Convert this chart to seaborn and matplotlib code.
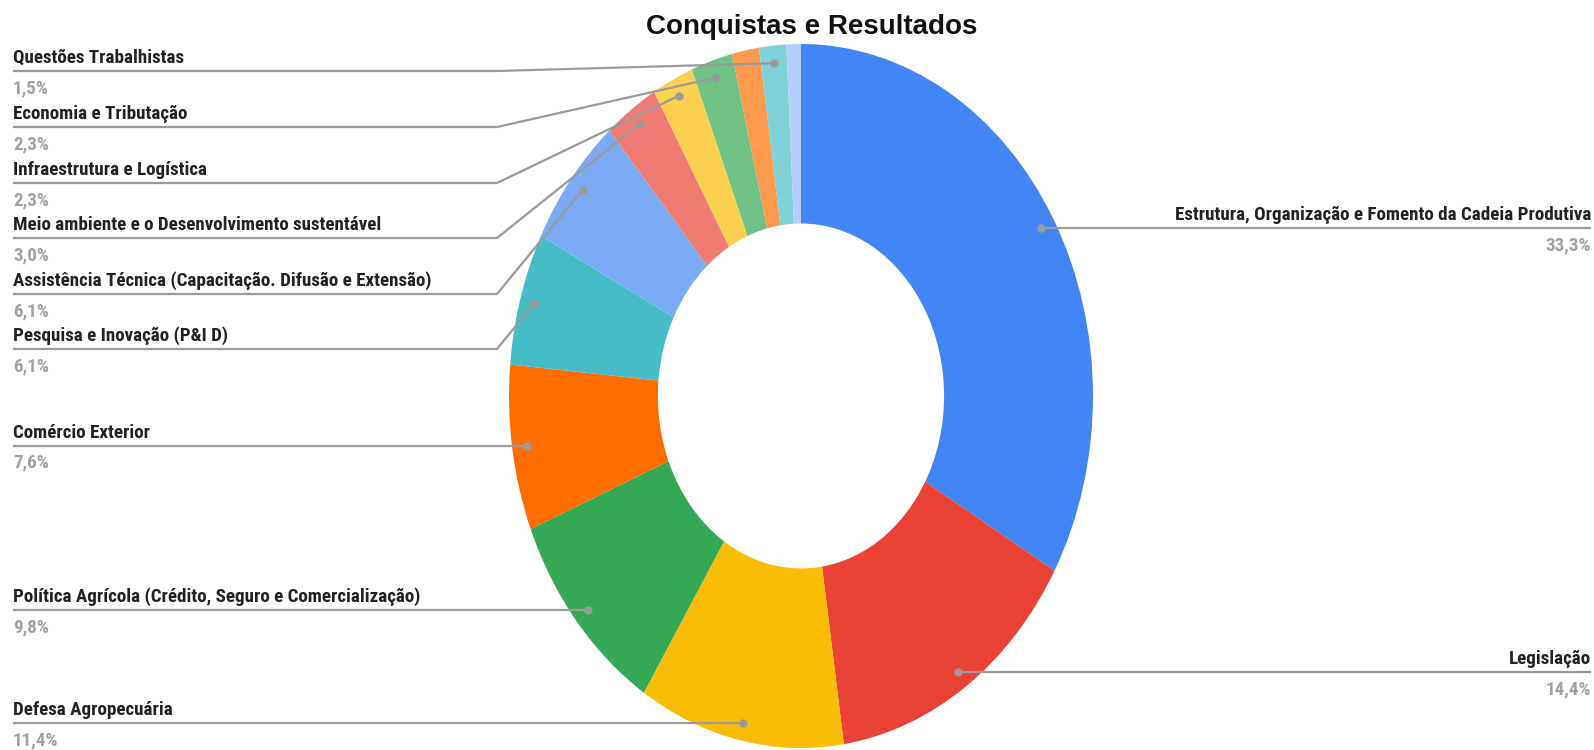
import matplotlib
matplotlib.use("Agg")
import matplotlib.pyplot as plt
import seaborn as sns
import numpy as np

# slices in clockwise order starting at 12 o'clock
categories = [
    "Estrutura, Organização e Fomento da Cadeia Produtiva",
    "Legislação",
    "Defesa Agropecuária",
    "Política Agrícola (Crédito, Seguro e Comercialização)",
    "Comércio Exterior",
    "Pesquisa e Inovação (P&I D)",
    "Assistência Técnica (Capacitação. Difusão e Extensão)",
    "Meio ambiente e o Desenvolvimento sustentável",
    "Infraestrutura e Logística",
    "Economia e Tributação",
    "",
    "Questões Trabalhistas",
    "",
]
values = [33.3, 14.4, 11.4, 9.8, 7.6, 6.1, 6.1, 3.0, 2.3, 2.3, 1.5, 1.5, 0.8]
colors = ["#4285F4", "#EA4335", "#FBBC04", "#34A853", "#FF6D01", "#46BDC6",
          "#7BAAF7", "#F07B72", "#FCD04F", "#71C287", "#FF994D", "#7ED1D7",
          "#B3CEFB"]
title = "Conquistas e Resultados"

sns.set_style("white")
plt.rcParams['font.family'] = ['Liberation Sans', 'DejaVu Sans']
plt.rcParams['font.weight'] = 'bold'
label_font = ['Roboto Condensed', 'Liberation Sans', 'DejaVu Sans']

W, H = 1594, 750
fig = plt.figure(figsize=(W / 100, H / 100), dpi=100)
ax = fig.add_axes([509 / W, 2 / H, 584 / W, 704 / H])
wedges, _ = ax.pie(values, colors=sns.color_palette(colors), startangle=90,
                   counterclock=False,
                   wedgeprops=dict(width=0.51, edgecolor='none'))
ax.set_aspect('auto')
ax.set_xlim(-1, 1)
ax.set_ylim(-1, 1)
ax.axis('off')

ov = fig.add_axes([0, 0, 1, 1])
ov.set_xlim(0, W)
ov.set_ylim(H, 0)
ov.axis('off')

# label rows used for the stacked labels on the upper left (pixels)
stacked_y = {5: 349, 6: 294, 7: 238, 8: 183, 9: 127, 11: 71}
line_col = "#9a9a9a"
cx = ax.transData.transform((0, 0))[0]

for i, w in enumerate(wedges):
    if not categories[i]:
        continue
    mid = np.deg2rad((w.theta1 + w.theta2) / 2)
    px, py = ax.transData.transform((0.95 * np.cos(mid), 0.95 * np.sin(mid)))
    py = H - py
    y = stacked_y.get(i, py)
    pct = f"{values[i]:.1f}".replace('.', ',') + "%"
    if px > cx:
        tx, ha = 1591, 'right'
        ov.plot([px, tx], [y, y], color=line_col, lw=1.6, solid_capstyle='butt')
    else:
        tx, ha = 13, 'left'
        if abs(y - py) > 1:
            xs, ys = [tx, 497, px], [y, y, py]
        else:
            xs, ys = [tx, px], [y, y]
        ov.plot(xs, ys, color=line_col, lw=1.6, solid_capstyle='butt')
    ov.text(tx, y - 8, categories[i], ha=ha, va='baseline', family=label_font,
            fontsize=13.7, color='#222222')
    ov.text(tx, y + 22, pct, ha=ha, va='baseline', family=label_font,
            fontsize=13.7, color='#a2a2a2')
    ov.plot(px, py, 'o', ms=6, color='#9a9a9a', mec='none')

ov.text(812, 27, title, ha='center', va='center', fontsize=20, color='#111111')

fig.savefig("out.png", dpi=100, facecolor='white')
